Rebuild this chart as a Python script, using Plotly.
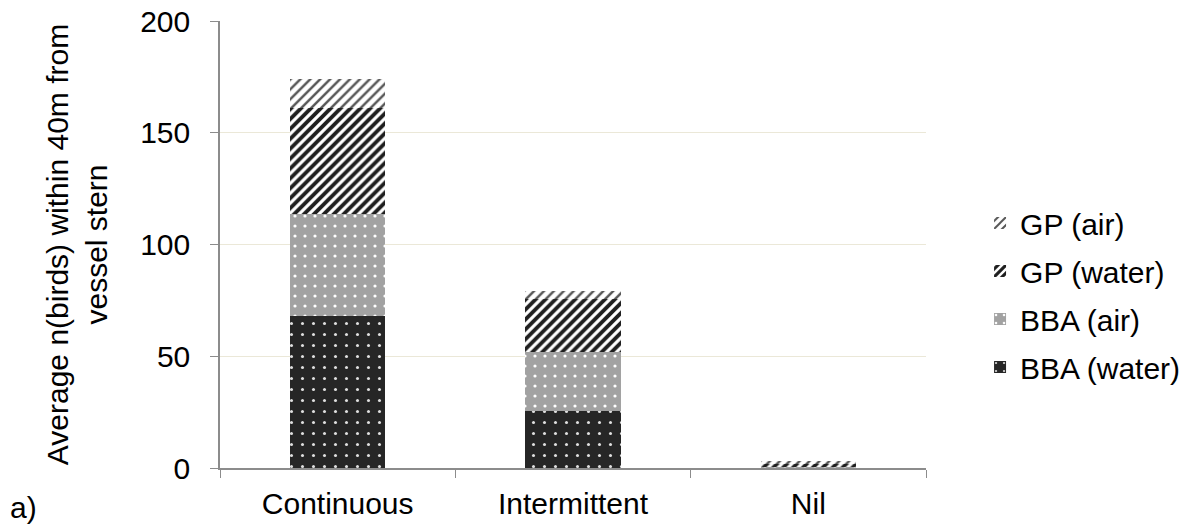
import plotly.graph_objects as go

categories = ["Continuous", "Intermittent", "Nil"]
bba_water = [68, 25.5, 0]
bba_air = [45.5, 26.5, 0.5]
gp_water = [47.5, 23.5, 1.5]
gp_air = [13, 3.5, 1]
y_ticks = [0, 50, 100, 150, 200]

font_family = "Liberation Sans, Arial, sans-serif"

# (name, values, legend rank, marker style) - stacked bottom to top
series = [
    ("BBA (water)", bba_water, 4,
     dict(color="#262626", pattern=dict(shape=".", fgcolor="#e0e0e0", fgopacity=1, size=11, solidity=0.06))),
    ("BBA (air)", bba_air, 3,
     dict(color="#a2a2a2", pattern=dict(shape=".", fgcolor="#ffffff", fgopacity=1, size=10, solidity=0.08))),
    ("GP (water)", gp_water, 2,
     dict(color="#ffffff", pattern=dict(shape="/", fgcolor="#1e1e1e", fgopacity=1, size=7, solidity=0.55))),
    ("GP (air)", gp_air, 1,
     dict(color="#ffffff", pattern=dict(shape="/", fgcolor="#555555", fgopacity=1, size=7, solidity=0.35))),
]

fig = go.Figure()
for name, vals, rank, marker in series:
    fig.add_trace(go.Bar(
        x=categories, y=vals, name=name, legendrank=rank, legendgroup=name,
        marker=dict(line=dict(width=0), **marker),
    ))

axis_grey = "#8c8c8c"

fig.update_layout(
    width=1193, height=527,
    barmode="stack", bargap=0.595,
    paper_bgcolor="white", plot_bgcolor="white",
    margin=dict(l=220, r=267, t=21, b=59, autoexpand=False),
    font=dict(family=font_family, size=30, color="#000000"),
    legend=dict(
        traceorder="grouped", tracegroupgap=6,
        xref="container", yref="container",
        x=0.8215, xanchor="left", y=0.4402, yanchor="middle",
        font=dict(size=30), itemwidth=30,
    ),
    xaxis=dict(
        automargin=False,
        showline=True, linecolor=axis_grey, linewidth=1.5,
        ticks="outside", tickson="boundaries", ticklen=8, tickcolor=axis_grey,
        tickfont=dict(size=30), ticklabelstandoff=8, showgrid=False,
    ),
    yaxis=dict(
        automargin=False,
        range=[0, 200], tickvals=y_ticks,
        showline=True, linecolor=axis_grey, linewidth=1.5,
        ticks="outside", ticklen=8, tickcolor=axis_grey,
        gridcolor="#ebe8d8", gridwidth=1, zeroline=False,
        tickfont=dict(size=30), ticklabelstandoff=14,
        title=dict(text="Average n(birds) within 40m from<br>vessel stern",
                   font=dict(size=30), standoff=24),
    ),
    annotations=[dict(
        text="a)", xref="paper", yref="paper", x=-0.300, y=-0.089,
        xanchor="left", yanchor="middle", showarrow=False, font=dict(size=30),
    )],
)

fig.write_html("out.html")
